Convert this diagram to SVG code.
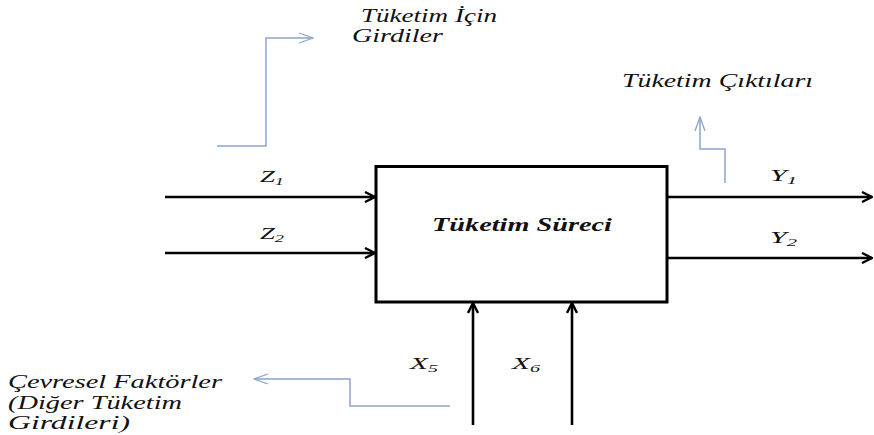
<svg xmlns="http://www.w3.org/2000/svg" width="874" height="435" viewBox="0 0 874 435" font-family="Liberation Serif, serif">
<style>
text{font-style:italic;fill:#111}
.lbl{font-size:18px}
.var{font-size:16px}
.sub{font-size:11px}
.title{font-size:19px;font-weight:bold}
.flow{stroke:#000;stroke-width:2.6;fill:none}
.note{stroke:#8aa5cc;stroke-width:1.5;fill:none}
</style>
<defs>
<marker id="ah" viewBox="0 0 12 12" refX="11" refY="6" markerWidth="12" markerHeight="12" markerUnits="userSpaceOnUse" orient="auto">
<path d="M1,1 L11,6 L1,11" fill="none" stroke="#000" stroke-width="2.4"/>
</marker>
<marker id="bh" viewBox="0 0 16 12" refX="15" refY="6" markerWidth="16" markerHeight="12" markerUnits="userSpaceOnUse" orient="auto">
<path d="M1,1 L15,6 L1,11" fill="none" stroke="#8aa5cc" stroke-width="1.3"/>
</marker>
</defs>
<rect width="874" height="435" fill="#fff"/>
<g id="process">
<rect x="376" y="166.5" width="291" height="135.5" fill="#fff" stroke="#000" stroke-width="3"/>
<text class="title" x="432" y="231" textLength="180" lengthAdjust="spacingAndGlyphs">Tüketim Süreci</text>
</g>
<g id="connectors">
<line class="flow" x1="165" y1="197" x2="375" y2="197" marker-end="url(#ah)"/>
<line class="flow" x1="165" y1="253" x2="375" y2="253" marker-end="url(#ah)"/>
<line class="flow" x1="668" y1="197" x2="872" y2="197" marker-end="url(#ah)"/>
<line class="flow" x1="668" y1="258" x2="872" y2="258" marker-end="url(#ah)"/>
<line class="flow" x1="473" y1="425" x2="473" y2="303" marker-end="url(#ah)"/>
<line class="flow" x1="572" y1="425" x2="572" y2="303" marker-end="url(#ah)"/>
<polyline class="note" points="217,146 266,146 266,38 313,38" marker-end="url(#bh)"/>
<polyline class="note" points="725,183 725,149 700,149 700,117" marker-end="url(#bh)"/>
<polyline class="note" points="450,406 350,406 350,379 254,379" marker-end="url(#bh)"/>
</g>
<g id="z1"><text class="var" x="260" y="182" textLength="24" lengthAdjust="spacingAndGlyphs">Z<tspan class="sub" dy="3">1</tspan></text></g>
<g id="z2"><text class="var" x="260" y="239" textLength="24" lengthAdjust="spacingAndGlyphs">Z<tspan class="sub" dy="3">2</tspan></text></g>
<g id="y1"><text class="var" x="770" y="181" textLength="27" lengthAdjust="spacingAndGlyphs">Y<tspan class="sub" dy="3">1</tspan></text></g>
<g id="y2"><text class="var" x="770" y="243" textLength="27" lengthAdjust="spacingAndGlyphs">Y<tspan class="sub" dy="3">2</tspan></text></g>
<g id="x5"><text class="var" x="410" y="369" textLength="28" lengthAdjust="spacingAndGlyphs">X<tspan class="sub" dy="3">5</tspan></text></g>
<g id="x6"><text class="var" x="512" y="369" textLength="28" lengthAdjust="spacingAndGlyphs">X<tspan class="sub" dy="3">6</tspan></text></g>
<g id="inputs-note">
<text class="lbl" x="361" y="22" textLength="136" lengthAdjust="spacingAndGlyphs">Tüketim İçin</text>
<text class="lbl" x="352" y="42" textLength="91" lengthAdjust="spacingAndGlyphs">Girdiler</text>
</g>
<g id="outputs-note">
<text class="lbl" x="622" y="87" textLength="191" lengthAdjust="spacingAndGlyphs">Tüketim Çıktıları</text>
</g>
<g id="env-note">
<text class="lbl" x="8" y="388" textLength="214" lengthAdjust="spacingAndGlyphs">Çevresel Faktörler</text>
<text class="lbl" x="8" y="409" textLength="174" lengthAdjust="spacingAndGlyphs">(Diğer Tüketim</text>
<text class="lbl" x="8" y="429" textLength="122" lengthAdjust="spacingAndGlyphs">Girdileri)</text>
</g>
</svg>
